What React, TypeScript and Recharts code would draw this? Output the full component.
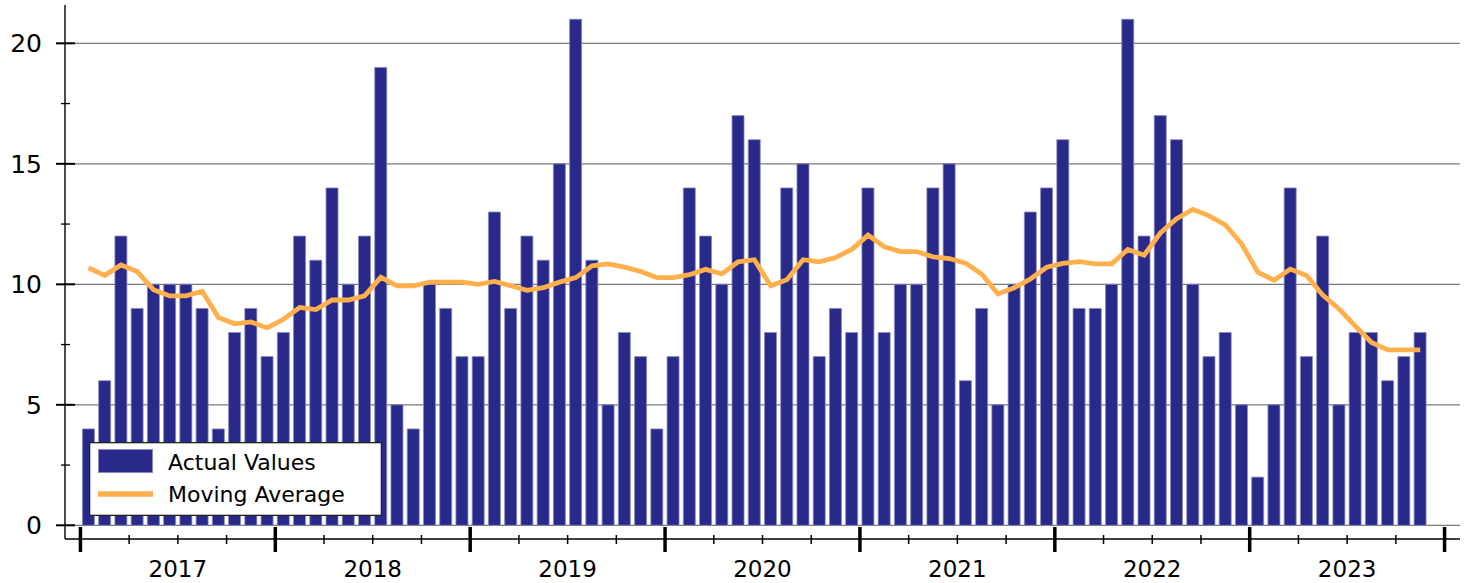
import React from 'react';
import { ComposedChart, Bar, Line, XAxis, YAxis, CartesianGrid, Legend } from 'recharts';

const FONT = '"DejaVu Sans", sans-serif';

const yearLabels = ['2017', '2018', '2019', '2020', '2021', '2022', '2023'];

const actualValues = [
  4, 6, 12, 9, 10, 10, 10, 9, 4, 8, 9, 7,
  8, 12, 11, 14, 10, 12, 19, 5, 4, 10, 9, 7,
  7, 13, 9, 12, 11, 15, 21, 11, 5, 8, 7, 4,
  7, 14, 12, 10, 17, 16, 8, 14, 15, 7, 9, 8,
  14, 8, 10, 10, 14, 15, 6, 9, 5, 10, 13, 14,
  16, 9, 9, 10, 21, 12, 17, 16, 10, 7, 8, 5,
  2, 5, 14, 7, 12, 5, 8, 8, 6, 7, 8,
];

const movingAverage = [
  10.68, 10.37, 10.8, 10.53, 9.78, 9.52, 9.52, 9.71, 8.62, 8.36, 8.44, 8.19,
  8.55, 9.04, 8.95, 9.35, 9.35, 9.52, 10.29, 9.94, 9.94, 10.09, 10.09, 10.09,
  10.0, 10.12, 9.94, 9.75, 9.86, 10.09, 10.28, 10.77, 10.85, 10.71, 10.53, 10.28,
  10.28, 10.4, 10.62, 10.43, 10.93, 11.02, 9.94, 10.19, 11.02, 10.93, 11.11, 11.45,
  12.04, 11.56, 11.36, 11.36, 11.14, 11.07, 10.88, 10.43, 9.6, 9.86, 10.22, 10.71,
  10.87, 10.94, 10.85, 10.85, 11.45, 11.21, 12.13, 12.72, 13.11, 12.84, 12.47, 11.68,
  10.5, 10.17, 10.63, 10.37, 9.55, 8.98, 8.27, 7.59, 7.28, 7.28, 7.28,
];

const yTicks = [0, 2.5, 5, 7.5, 10, 12.5, 15, 17.5, 20];
const yGridValues = [0, 5, 10, 15, 20];
const xTicks = [0, 3, 6, 9, 12, 15, 18, 21, 24, 27, 30, 33, 36, 39, 42, 45, 48, 51, 54, 57, 60, 63, 66, 69, 72, 75, 78, 81, 84];

const data = actualValues.map((v, i) => ({ month: i + 0.5, actual: v, ma: movingAverage[i] }));

const YTick = (props: any) => {
  const { x, y, payload } = props;
  const v = payload.value;
  const major = v % 5 === 0;
  return (
    <g>
      <line
        x1={major ? x - 9 : x - 4}
        x2={major ? x + 10 : x + 5}
        y1={y}
        y2={y}
        stroke="#000"
        strokeWidth={major ? 2 : 1.3}
      />
      {major && (
        <text x={x - 23} y={y} dy={9} textAnchor="end" fontSize={25} fontFamily={FONT} fill="#000">
          {v}
        </text>
      )}
    </g>
  );
};

const XTick = (props: any) => {
  const { x, y, payload } = props;
  const v = payload.value;
  const major = v % 12 === 0;
  return (
    <g>
      {major ? (
        <line x1={x} x2={x} y1={y - 12} y2={y + 13} stroke="#000" strokeWidth={3.5} />
      ) : (
        <line x1={x} x2={x} y1={y - 4} y2={y + 5} stroke="#000" strokeWidth={1.5} />
      )}
      {v % 12 === 6 && (
        <text x={x} y={y + 38} textAnchor="middle" fontSize={23} fontFamily={FONT} fill="#000">
          {yearLabels[(v - 6) / 12]}
        </text>
      )}
    </g>
  );
};

const LegendBox = () => (
  <svg width={293} height={74} style={{ display: 'block' }}>
    <rect x={0.65} y={0.65} width={291.7} height={72.7} fill="#fff" stroke="#222" strokeWidth={1.3} />
    <rect x={9.5} y={7.5} width={54} height={23} fill="#29298A" stroke="#8a89c2" strokeWidth={1} />
    <text x={79} y={27.5} fontSize={22} fontFamily={FONT} fill="#000">Actual Values</text>
    <line x1={9} x2={64} y1={52} y2={52} stroke="#FFB04C" strokeWidth={5.5} />
    <text x={79} y={60} fontSize={22} fontFamily={FONT} fill="#000">Moving Average</text>
  </svg>
);

export default function App() {
  return (
    <div style={{ position: 'absolute', left: 0, top: 0, width: 1467, height: 583, background: '#fff' }}>
      <ComposedChart width={1467} height={583} data={data} margin={{ top: 5, right: 7, bottom: 0, left: 0 }}>
        <CartesianGrid
          horizontal={true}
          vertical={false}
          horizontalValues={yGridValues}
          stroke="#7a7a7a"
          strokeWidth={1.3}
        />
        <XAxis
          dataKey="month"
          type="number"
          domain={[-0.95, 84.95]}
          allowDataOverflow
          ticks={xTicks}
          interval={0}
          height={44}
          tickSize={0}
          tickMargin={0}
          tickLine={false}
          axisLine={{ stroke: '#000', strokeWidth: 1.6 }}
          tick={<XTick />}
        />
        <YAxis
          type="number"
          domain={[-0.568, 21.59]}
          allowDataOverflow
          ticks={yTicks}
          interval={0}
          width={65}
          tickSize={0}
          tickMargin={0}
          tickLine={false}
          axisLine={{ stroke: '#000', strokeWidth: 1.4 }}
          tick={<YTick />}
        />
        <Bar dataKey="actual" name="Actual Values" fill="#29298A" stroke="#8a89c2" strokeWidth={0.8} barSize={12} isAnimationActive={false} />
        <Line dataKey="ma" name="Moving Average" type="linear" stroke="#FFB04C" strokeWidth={4.8} dot={false} activeDot={false} isAnimationActive={false} />
        <Legend
          layout="vertical"
          align="center"
          verticalAlign="middle"
          content={<LegendBox />}
          wrapperStyle={{ position: 'absolute', left: 89, top: 442, width: 293, height: 74 }}
        />
      </ComposedChart>
    </div>
  );
}
